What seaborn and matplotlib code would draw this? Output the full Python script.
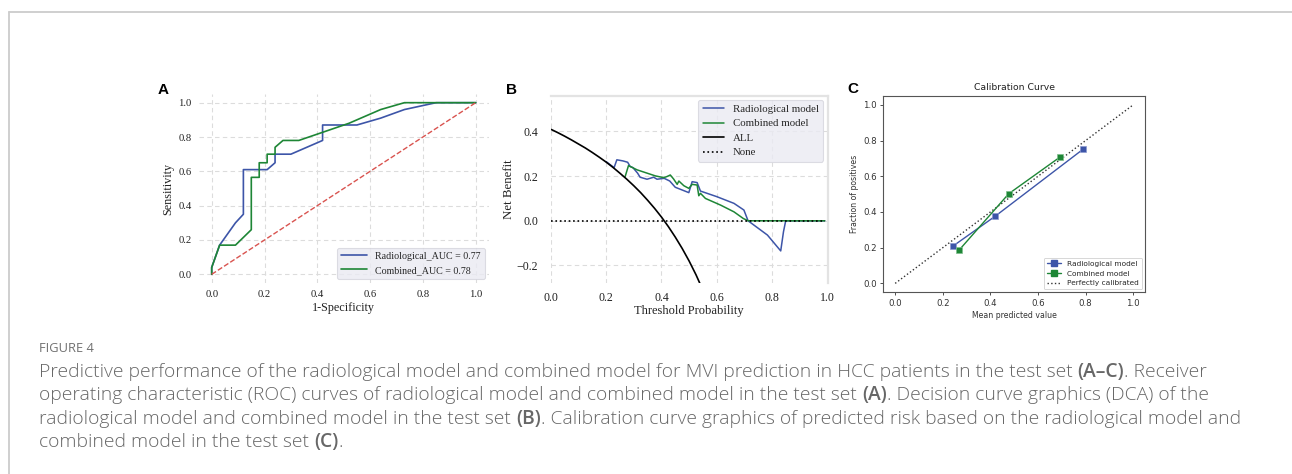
import matplotlib
matplotlib.use("Agg")
import matplotlib.pyplot as plt
import seaborn as sns
from matplotlib.lines import Line2D

# ---------------- data ----------------
# Panel A: ROC curves
roc_rad_fpr = [0.0, 0.0, 0.03, 0.09, 0.12, 0.12, 0.21, 0.24, 0.24, 0.30, 0.42, 0.42, 0.55, 0.64, 0.73, 0.85, 1.0]
roc_rad_tpr = [0.0, 0.04, 0.17, 0.30, 0.35, 0.61, 0.61, 0.65, 0.70, 0.70, 0.78, 0.87, 0.87, 0.91, 0.96, 1.0, 1.0]
roc_com_fpr = [0.0, 0.0, 0.03, 0.09, 0.15, 0.15, 0.18, 0.18, 0.21, 0.21, 0.24, 0.24, 0.27, 0.33, 0.52, 0.64, 0.73, 1.0]
roc_com_tpr = [0.0, 0.04, 0.17, 0.17, 0.26, 0.565, 0.565, 0.65, 0.65, 0.70, 0.70, 0.74, 0.78, 0.78, 0.88, 0.96, 1.0, 1.0]
roc_labels = ["Radiological_AUC = 0.77", "Combined_AUC = 0.78"]

# Panel B: decision curves
dca_rad_t = [0.20, 0.229, 0.239, 0.261, 0.278, 0.287, 0.297, 0.314, 0.323, 0.348, 0.372, 0.384, 0.41, 0.43,
             0.45, 0.499, 0.511, 0.529, 0.541, 0.60, 0.662, 0.698, 0.713, 0.783, 0.831, 0.841, 0.849, 0.99]
dca_rad_nb = [0.265, 0.238, 0.273, 0.268, 0.262, 0.243, 0.238, 0.213, 0.195, 0.186, 0.195, 0.186, 0.19, 0.178,
              0.15, 0.126, 0.175, 0.171, 0.133, 0.108, 0.078, 0.048, 0.0, -0.064, -0.135, -0.049, 0.0, 0.0]
dca_com_t = [0.269, 0.281, 0.312, 0.378, 0.408, 0.42, 0.432, 0.444, 0.457, 0.463, 0.481, 0.499, 0.511, 0.529,
             0.535, 0.541, 0.559, 0.614, 0.662, 0.696, 0.713, 0.99]
dca_com_nb = [0.198, 0.247, 0.228, 0.201, 0.193, 0.198, 0.205, 0.187, 0.163, 0.178, 0.157, 0.145, 0.163, 0.160,
              0.112, 0.123, 0.100, 0.070, 0.040, 0.010, 0.0, 0.0]
dca_all_t = [0.0, 0.025, 0.05, 0.075, 0.1, 0.125, 0.15, 0.175, 0.2, 0.225, 0.25, 0.275, 0.3, 0.325, 0.35,
             0.375, 0.4, 0.425, 0.45, 0.475, 0.5, 0.525, 0.55]
dca_all_nb = [0.410, 0.395, 0.379, 0.362, 0.344, 0.326, 0.306, 0.285, 0.263, 0.239, 0.213, 0.186, 0.157, 0.126,
              0.092, 0.056, 0.017, -0.026, -0.073, -0.124, -0.180, -0.242, -0.311]
dca_none_t = [0.0, 0.99]
dca_none_nb = [0.0, 0.0]
dca_labels = ["Radiological model", "Combined model", "ALL", "None"]

# Panel C: calibration
cal_rad_x = [0.245, 0.421, 0.790]
cal_rad_y = [0.211, 0.377, 0.752]
cal_com_x = [0.269, 0.477, 0.694]
cal_com_y = [0.187, 0.502, 0.709]
cal_labels = ["Radiological model", "Combined model", "Perfectly calibrated"]

ticks01 = [0.0, 0.2, 0.4, 0.6, 0.8, 1.0]
tick_labels01 = ["0.0", "0.2", "0.4", "0.6", "0.8", "1.0"]
dca_yticks = [-0.2, 0.0, 0.2, 0.4]
dca_ytick_labels = ["\u22120.2", "0.0", "0.2", "0.4"]

caption_head = "FIGURE 4"
caption_lines = [
    [("Predictive performance of the radiological model and combined model for MVI prediction in HCC patients in the test set ", False),
     ("(A\u2013C)", True), (". Receiver", False)],
    [("operating characteristic (ROC) curves of radiological model and combined model in the test set ", False),
     ("(A)", True), (". Decision curve graphics (DCA) of the", False)],
    [("radiological model and combined model in the test set ", False), ("(B)", True),
     (". Calibration curve graphics of predicted risk based on the radiological model and", False)],
    [("combined model in the test set ", False), ("(C)", True), (".", False)],
]

# ---------------- style ----------------
BLUE = "#3D55A8"
GREEN = "#1E8636"
RED = "#D9534F"
SERIF = "Liberation Serif"

sns.set_theme(style="whitegrid")
plt.rcParams['font.family'] = ['DejaVu Sans']

W, H = 1292, 474
fig = plt.figure(figsize=(W / 100, H / 100), dpi=100)
fig.patch.set_facecolor("white")


def rect(left, top, right, bottom):
    return [left / W, 1 - bottom / H, (right - left) / W, (bottom - top) / H]


def grid_style(ax):
    ax.grid(True, linestyle=(0, (4, 3)), color="#dcdcdc", linewidth=0.8)
    ax.set_axisbelow(True)


# ---------------- Panel A ----------------
axA = fig.add_axes(rect(198.5, 94.1, 488.9, 282.9))
grid_style(axA)
sns.lineplot(x=roc_rad_fpr, y=roc_rad_tpr, sort=False, estimator=None, ax=axA, color=BLUE, lw=1.2,
             label=roc_labels[0])
sns.lineplot(x=roc_com_fpr, y=roc_com_tpr, sort=False, estimator=None, ax=axA, color=GREEN, lw=1.2,
             label=roc_labels[1])
sns.lineplot(x=[0, 1], y=[0, 1], sort=False, estimator=None, ax=axA, color=RED, lw=1.0, linestyle="--",
             legend=False)
axA.set_xlim(-0.05, 1.05)
axA.set_ylim(-0.05, 1.05)
axA.set_xticks(ticks01, labels=tick_labels01, fontfamily=SERIF, fontsize=7.7)
axA.set_yticks(ticks01, labels=tick_labels01, fontfamily=SERIF, fontsize=7.7)
axA.tick_params(length=0, pad=5, colors="#222222")
axA.set_xlabel("1-Specificity", fontfamily=SERIF, fontsize=8.7, labelpad=2, color="#222222")
axA.set_ylabel("Sensitivity", fontfamily=SERIF, fontsize=8.7, labelpad=3, color="#222222")
for s in axA.spines.values():
    s.set_visible(False)
legA = axA.legend(loc="lower right", prop={"family": SERIF, "size": 7.2}, facecolor="#EAEAF2",
                  edgecolor="#d5d5dd", framealpha=0.8, borderaxespad=0.4, handlelength=2.6)
legA.get_frame().set_linewidth(0.8)

# ---------------- Panel B ----------------
axB = fig.add_axes(rect(550.7, 95.7, 827.5, 283.3))
grid_style(axB)
sns.lineplot(x=dca_rad_t, y=dca_rad_nb, sort=False, estimator=None, ax=axB, color=BLUE, lw=1.1, legend=False)
sns.lineplot(x=dca_com_t, y=dca_com_nb, sort=False, estimator=None, ax=axB, color=GREEN, lw=1.1, legend=False)
sns.lineplot(x=dca_all_t, y=dca_all_nb, sort=False, estimator=None, ax=axB, color="black", lw=1.2, legend=False)
sns.lineplot(x=dca_none_t, y=dca_none_nb, sort=False, estimator=None, ax=axB, color="black", lw=1.2,
             linestyle=":", legend=False)
axB.set_xlim(0.0, 1.0)
axB.set_ylim(-0.28, 0.56)
axB.set_xticks(ticks01, labels=tick_labels01, fontfamily=SERIF, fontsize=8.6)
axB.set_yticks(dca_yticks, labels=dca_ytick_labels, fontfamily=SERIF, fontsize=8.6)
axB.tick_params(length=0, pad=9, colors="#222222")
axB.tick_params(axis="x", pad=6)
axB.set_xlabel("Threshold Probability", fontfamily=SERIF, fontsize=9, labelpad=1, color="#222222")
axB.set_ylabel("Net Benefit", fontfamily=SERIF, fontsize=9.3, labelpad=1, color="#222222")
axB.spines["left"].set_visible(False)
axB.spines["bottom"].set_visible(False)
for side in ("top", "right"):
    axB.spines[side].set_color("#e3e3e3")
    axB.spines[side].set_linewidth(1.6)
handlesB = [Line2D([], [], color=BLUE, lw=1.1), Line2D([], [], color=GREEN, lw=1.1),
            Line2D([], [], color="black", lw=1.2), Line2D([], [], color="black", lw=1.2, linestyle=":")]
legB = axB.legend(handlesB, dca_labels, loc="upper right", prop={"family": SERIF, "size": 7.8},
                  facecolor="#EAEAF2", edgecolor="#d5d5dd", framealpha=0.8, borderaxespad=0.4,
                  labelspacing=0.45)
legB.get_frame().set_linewidth(0.8)

# ---------------- Panel C ----------------
axC = fig.add_axes(rect(883.3, 96.0, 1145.0, 292.3))
axC.grid(False)
sns.lineplot(x=[0, 1], y=[0, 1], sort=False, estimator=None, ax=axC, color="#333333", lw=1.0,
             linestyle=":", legend=False, zorder=1)
sns.lineplot(x=cal_rad_x, y=cal_rad_y, sort=False, estimator=None, ax=axC, color=BLUE, lw=1.0,
             marker="s", markersize=4.3, markeredgecolor="#8d9ad0", markeredgewidth=0.5, legend=False, zorder=3)
sns.lineplot(x=cal_com_x, y=cal_com_y, sort=False, estimator=None, ax=axC, color=GREEN, lw=1.0,
             marker="s", markersize=4.3, markeredgecolor="#7fbf8c", markeredgewidth=0.5, legend=False, zorder=3)
axC.set_xlim(-0.05, 1.05)
axC.set_ylim(-0.05, 1.05)
axC.set_xticks(ticks01, labels=tick_labels01, fontfamily="DejaVu Sans", fontsize=6.2)
axC.set_yticks(ticks01, labels=tick_labels01, fontfamily="DejaVu Sans", fontsize=6.2)
axC.tick_params(bottom=True, left=True, length=2.3, width=0.6, pad=2.2, colors="#333333")
axC.set_xlabel("Mean predicted value", fontfamily="DejaVu Sans", fontsize=5.6, labelpad=2.5, color="#333333")
axC.set_ylabel("Fraction of positives", fontfamily="DejaVu Sans", fontsize=5.6, labelpad=3, color="#333333")
axC.set_title("Calibration Curve", fontfamily="DejaVu Sans", fontsize=6.7, pad=4, color="#222222")
for s in axC.spines.values():
    s.set_visible(True)
    s.set_color("#555555")
    s.set_linewidth(0.8)
handlesC = [Line2D([], [], color=BLUE, lw=1.0, marker="s", markersize=4.3),
            Line2D([], [], color=GREEN, lw=1.0, marker="s", markersize=4.3),
            Line2D([], [], color="#333333", lw=1.0, linestyle=":")]
legC = axC.legend(handlesC, cal_labels, loc="lower right", prop={"family": "DejaVu Sans", "size": 5.3},
                  facecolor="white", edgecolor="#cccccc", framealpha=0.9, borderaxespad=0.4)
legC.get_frame().set_linewidth(0.6)

# ---------------- panel letters ----------------
for letter, x, y in (("A", 158, 94), ("B", 506, 94), ("C", 847, 93)):
    fig.text(x / W, 1 - y / H, letter, fontfamily="Liberation Sans", fontweight="bold", fontsize=11,
             ha="left", va="baseline", color="black")

# ---------------- page frame ----------------
fig.add_artist(Line2D([9 / W, 1.0], [1 - 12 / H, 1 - 12 / H], color="#cccccc", lw=1.3))
fig.add_artist(Line2D([9 / W, 9 / W], [1 - 12 / H, 0.0], color="#cccccc", lw=1.3))

# ---------------- caption ----------------
CAP_FONT = "Open Sans"
CAP_COLOR = "#676767"
CAP_SIZE = 13.9
CAP_WEIGHT = "light"
fig.text(39 / W, 1 - 349 / H, caption_head, fontfamily=CAP_FONT, fontsize=9.3, color="#707070",
         ha="left", va="center", fontweight="normal")

renderer = fig.canvas.get_renderer()


def text_width(s, weight):
    t1 = fig.text(0, 0, s + "|", fontfamily=CAP_FONT, fontsize=CAP_SIZE, fontweight=weight)
    t2 = fig.text(0, 0, "|", fontfamily=CAP_FONT, fontsize=CAP_SIZE, fontweight=weight)
    w = t1.get_window_extent(renderer=renderer).width - t2.get_window_extent(renderer=renderer).width
    t1.remove()
    t2.remove()
    return w


line_y = [372, 395, 419, 442]
for pieces, y in zip(caption_lines, line_y):
    x = 39.0
    for txt, bold in pieces:
        weight = "semibold" if bold else CAP_WEIGHT
        fig.text(x / W, 1 - y / H, txt, fontfamily=CAP_FONT, fontsize=CAP_SIZE, fontweight=weight,
                 color=CAP_COLOR, ha="left", va="center")
        x += text_width(txt, weight)

fig.savefig("out.png", dpi=100, facecolor="white")
